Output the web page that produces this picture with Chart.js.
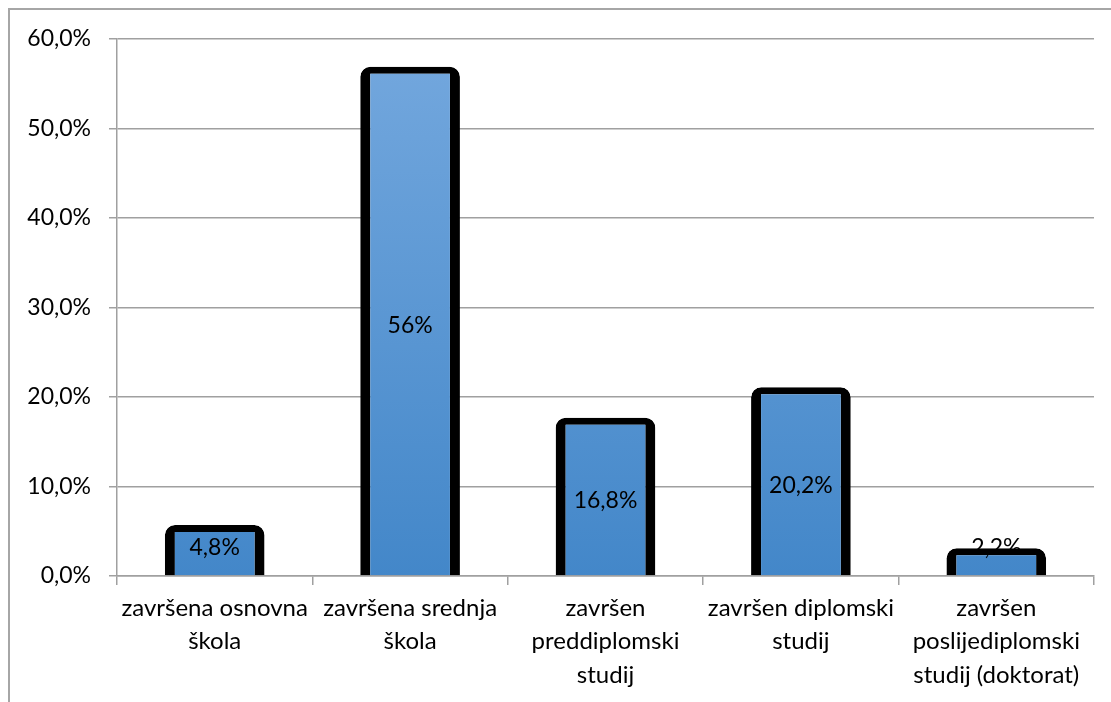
<!DOCTYPE html>
<html>
<head>
<meta charset="utf-8">
<script src="https://cdn.jsdelivr.net/npm/chart.js@4"></script>
<style>
  html, body { margin: 0; padding: 0; background: #fff; }
  canvas { display: block; }
</style>
</head>
<body>
<canvas id="eduChart" width="1111" height="702"></canvas>
<script>
// Data
var categories = [
  ["završena osnovna", "škola"],
  ["završena srednja", "škola"],
  ["završen", "preddiplomski", "studij"],
  ["završen diplomski", "studij"],
  ["završen", "poslijediplomski", "studij (doktorat)"]
];
var shares = [4.8, 56, 16.8, 20.2, 2.2];
var shareLabels = ["4,8%", "56%", "16,8%", "20,2%", "2,2%"];
var yTicks = [0, 10, 20, 30, 40, 50, 60];

var FONT = "Lato, 'Noto Sans', sans-serif";

// Outer frame of the chart
var framePlugin = {
  id: "frame",
  beforeDraw: function (chart) {
    var ctx = chart.ctx;
    ctx.save();
    ctx.strokeStyle = "#a6a6a6";
    ctx.lineWidth = 2;
    ctx.strokeRect(9, 9, chart.width + 20, chart.height + 20);
    ctx.restore();
  }
};

// Excel draws the bar outline centred on the edge, so lift the top a bit
var outlinePlugin = {
  id: "outline",
  afterDatasetsUpdate: function (chart) {
    chart.getDatasetMeta(0).data.forEach(function (el) {
      el.y = el.y - 8;
    });
  }
};

// Value labels in the middle of each bar
var labelPlugin = {
  id: "valueLabels",
  afterDatasetsDraw: function (chart) {
    var ctx = chart.ctx;
    var yScale = chart.scales.y;
    var base = yScale.getPixelForValue(0);
    ctx.save();
    ctx.font = "23px " + FONT;
    ctx.fillStyle = "#000";
    ctx.textAlign = "center";
    ctx.textBaseline = "middle";
    chart.getDatasetMeta(0).data.forEach(function (el, i) {
      var top = yScale.getPixelForValue(shares[i]);
      var y = Math.min((top + base) / 2, base - 28);
      ctx.fillText(shareLabels[i], el.x, y);
    });
    ctx.restore();
  }
};

var ctx = document.getElementById("eduChart").getContext("2d");
var chart = new Chart(ctx, {
  type: "bar",
  data: {
    labels: categories,
    datasets: [
      {
        data: shares,
        backgroundColor: function (context) {
          var area = context.chart.chartArea;
          if (!area) return "#5b9bd5";
          var g = context.chart.ctx.createLinearGradient(0, area.top, 0, area.bottom);
          g.addColorStop(0, "#74a8de");
          g.addColorStop(1, "#4387c9");
          return g;
        },
        borderColor: "#000",
        borderWidth: { top: 7, left: 10, right: 10, bottom: 0 },
        borderRadius: { topLeft: 10, topRight: 10, bottomLeft: 0, bottomRight: 0 },
        borderSkipped: "bottom",
        barPercentage: 0.51,
        categoryPercentage: 1
      }
    ]
  },
  options: {
    responsive: false,
    animation: false,
    layout: { padding: { top: 39, right: 17, left: 0, bottom: 0 } },
    plugins: {
      legend: { display: false },
      tooltip: { enabled: false }
    },
    scales: {
      x: {
        offset: true,
        grid: {
          offset: true,
          drawOnChartArea: false,
          color: "#a0a0a0",
          tickLength: 9,
          lineWidth: 1.5
        },
        border: { color: "#a0a0a0", width: 1.5 },
        ticks: {
          color: "#000",
          font: { family: FONT, size: 24, lineHeight: 1.38 },
          padding: 7,
          maxRotation: 0,
          autoSkip: false
        },
        afterFit: function (scale) {
          scale.height = 126;
        }
      },
      y: {
        min: 0,
        max: 60,
        afterBuildTicks: function (scale) {
          scale.ticks = yTicks.map(function (v) { return { value: v }; });
        },
        grid: {
          color: "#a0a0a0",
          tickLength: 8,
          lineWidth: 1.5
        },
        border: { color: "#a0a0a0", width: 1.5 },
        ticks: {
          color: "#000",
          font: { family: FONT, size: 23 },
          padding: 18,
          callback: function (v) {
            return v.toFixed(1).replace(".", ",") + "%";
          }
        },
        afterFit: function (scale) {
          scale.width = 117;
        }
      }
    }
  },
  plugins: [framePlugin, outlinePlugin, labelPlugin]
});
</script>
</body>
</html>
